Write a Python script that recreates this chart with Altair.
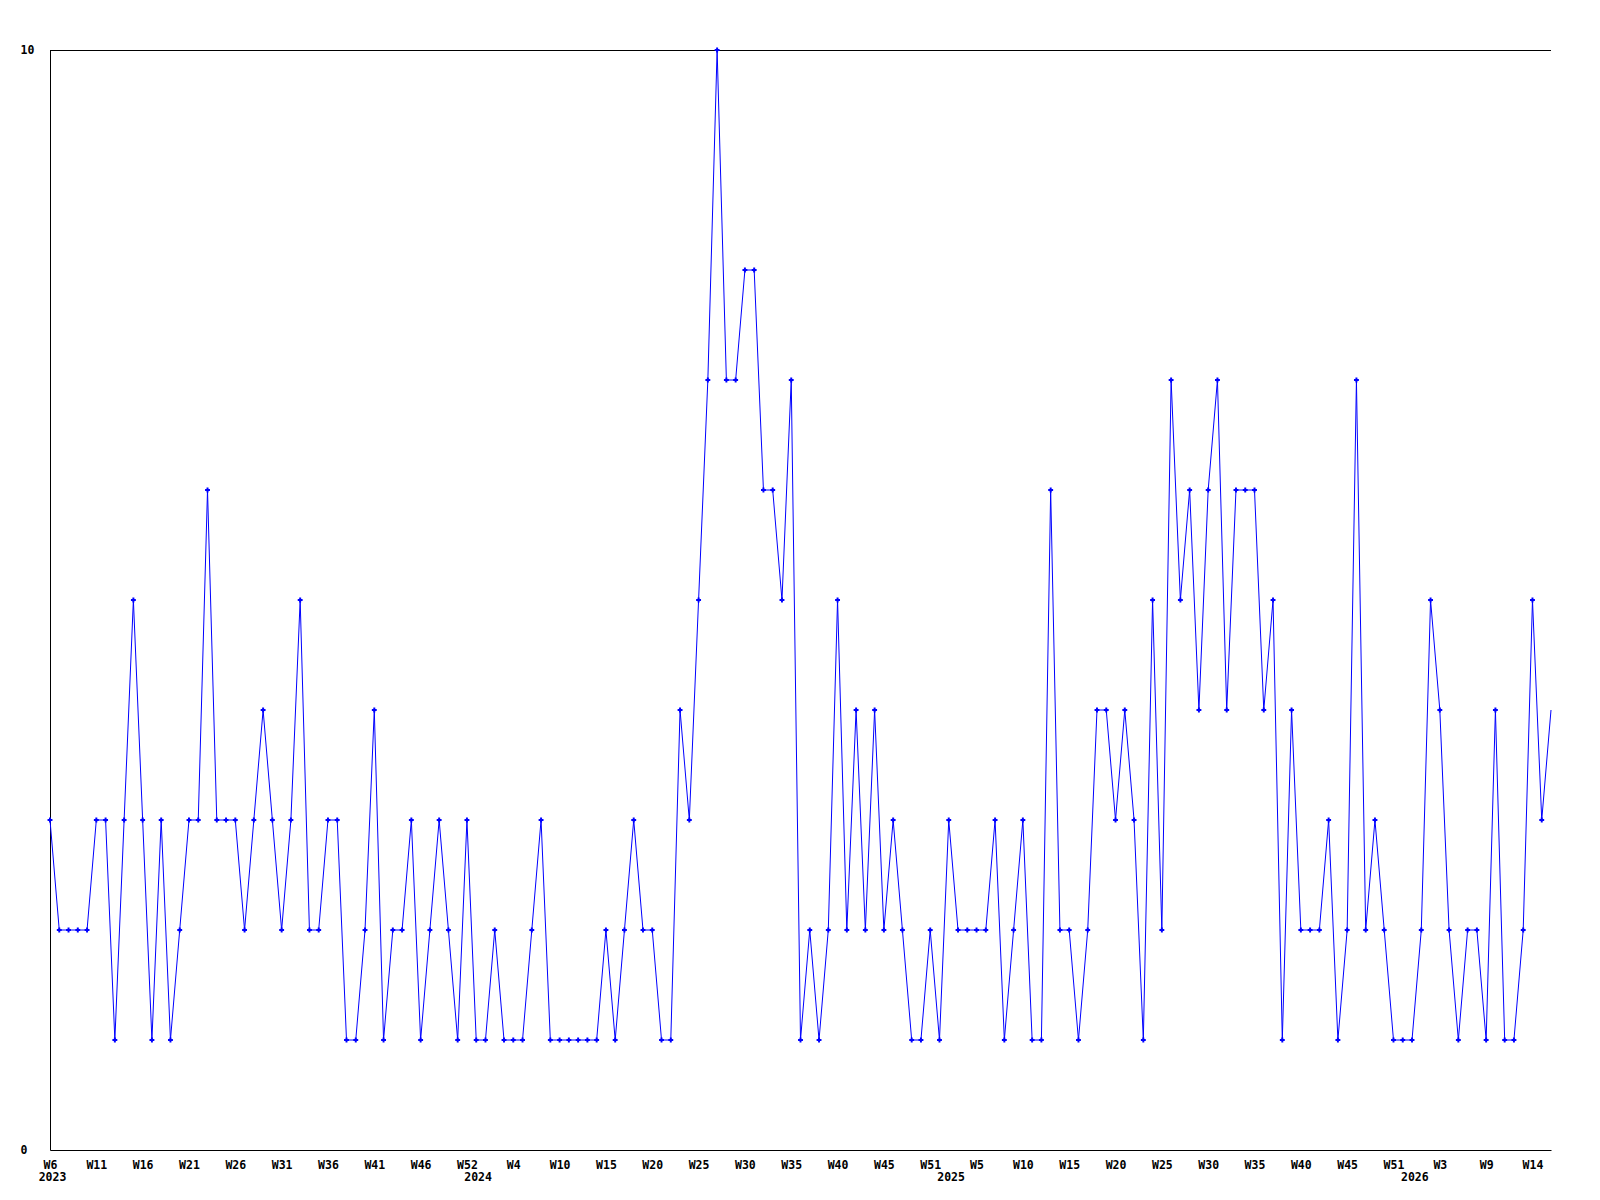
import altair as alt
import pandas as pd

# Weekly values, starting 2023 W6 (one value per week)
values = [
    3, 2, 2, 2, 2, 3, 3, 1, 3, 5, 3, 1, 3, 1, 2, 3, 3, 6, 3, 3,
    3, 2, 3, 4, 3, 2, 3, 5, 2, 2, 3, 3, 1, 1, 2, 4, 1, 2, 2, 3,
    1, 2, 3, 2, 1, 3, 1, 1, 2, 1, 1, 1, 2, 3, 1, 1, 1, 1, 1, 1,
    2, 1, 2, 3, 2, 2, 1, 1, 4, 3, 5, 7, 10, 7, 7, 8, 8, 6, 6, 5,
    7, 1, 2, 1, 2, 5, 2, 4, 2, 4, 2, 3, 2, 1, 1, 2, 1, 3, 2, 2,
    2, 2, 3, 1, 2, 3, 1, 1, 6, 2, 2, 1, 2, 4, 4, 3, 4, 3, 1, 5,
    2, 7, 5, 6, 4, 6, 7, 4, 6, 6, 6, 4, 5, 1, 4, 2, 2, 2, 3, 1,
    2, 7, 2, 3, 2, 1, 1, 1, 2, 5, 4, 2, 1, 2, 2, 1, 4, 1, 1, 2,
    5, 3, 4,
]

# x tick labels, one every 5 weeks
week_labels = [
    "W6", "W11", "W16", "W21", "W26", "W31", "W36", "W41", "W46", "W52",
    "W4", "W10", "W15", "W20", "W25", "W30", "W35", "W40", "W45", "W51",
    "W5", "W10", "W15", "W20", "W25", "W30", "W35", "W40", "W45", "W51",
    "W3", "W9", "W14",
]
tick_step = 5

# year labels and the week index they sit under
years = ["2023", "2024", "2025", "2026"]
year_pos = [0.27, 46.2, 97.25, 147.3]

W, H = 1501, 1100
FONT = "DejaVu Sans Mono"
BLUE = "#0000FF"

df = pd.DataFrame({"i": list(range(len(values))), "v": values})
ydf = pd.DataFrame({"i": year_pos, "year": years})

n = len(values) - 1
tick_vals = list(range(0, tick_step * len(week_labels), tick_step))
label_arr = "[" + ",".join('"%s"' % s for s in week_labels) + "]"

xscale = alt.Scale(domain=[0, n], nice=False, zero=False)
yscale = alt.Scale(domain=[0, 10], nice=False)

xaxis = alt.Axis(
    values=tick_vals,
    labelExpr=label_arr + "[round(datum.value/%d)]" % tick_step,
    title=None, grid=False, ticks=False, tickSize=0,
    labelPadding=9, labelFont=FONT, labelFontSize=11.5, labelFontWeight="bold",
    labelColor="black", labelFlush=False, labelOverlap=False,
    domainColor="black", domainWidth=1,
)
yaxis = alt.Axis(
    values=[0, 10], format="d", title=None, grid=False, ticks=False, tickSize=0,
    labelAlign="left", labelBaseline="middle", labelPadding=30,
    labelFont=FONT, labelFontSize=11.5, labelFontWeight="bold",
    labelColor="black", domainColor="black", domainWidth=1,
)

base = alt.Chart(df)

line = base.mark_line(color=BLUE, strokeWidth=1).encode(
    x=alt.X("i:Q", scale=xscale, axis=xaxis),
    y=alt.Y("v:Q", scale=yscale, axis=yaxis),
)

pts = base.transform_filter(alt.datum.i < n).mark_point(
    shape="cross", filled=True, size=24, color=BLUE, opacity=1, strokeWidth=0
).encode(
    x=alt.X("i:Q", scale=xscale),
    y=alt.Y("v:Q", scale=yscale),
)

top = alt.Chart(df).mark_rule(color="black", strokeWidth=1).encode(
    x=alt.value(0), x2=alt.value(W), y=alt.value(0.5)
)

year_text = alt.Chart(ydf).mark_text(
    font=FONT, fontSize=11.5, fontWeight="bold", color="black",
    baseline="middle", align="center"
).encode(
    x=alt.X("i:Q", scale=xscale),
    y=alt.value(H + 28),
    text="year:N",
)

chart = alt.layer(top, line, pts, year_text).properties(
    width=W, height=H,
    autosize=alt.AutoSizeParams(type="none"),
    padding={"left": 42, "top": 42, "right": 40, "bottom": 45},
    view=alt.ViewBackground(stroke="transparent", strokeWidth=0, strokeOpacity=0),
).configure_view(stroke="transparent", strokeWidth=0, strokeOpacity=0).configure(background="white")

chart.save("out.html", embed_options={"renderer": "svg", "actions": False})
